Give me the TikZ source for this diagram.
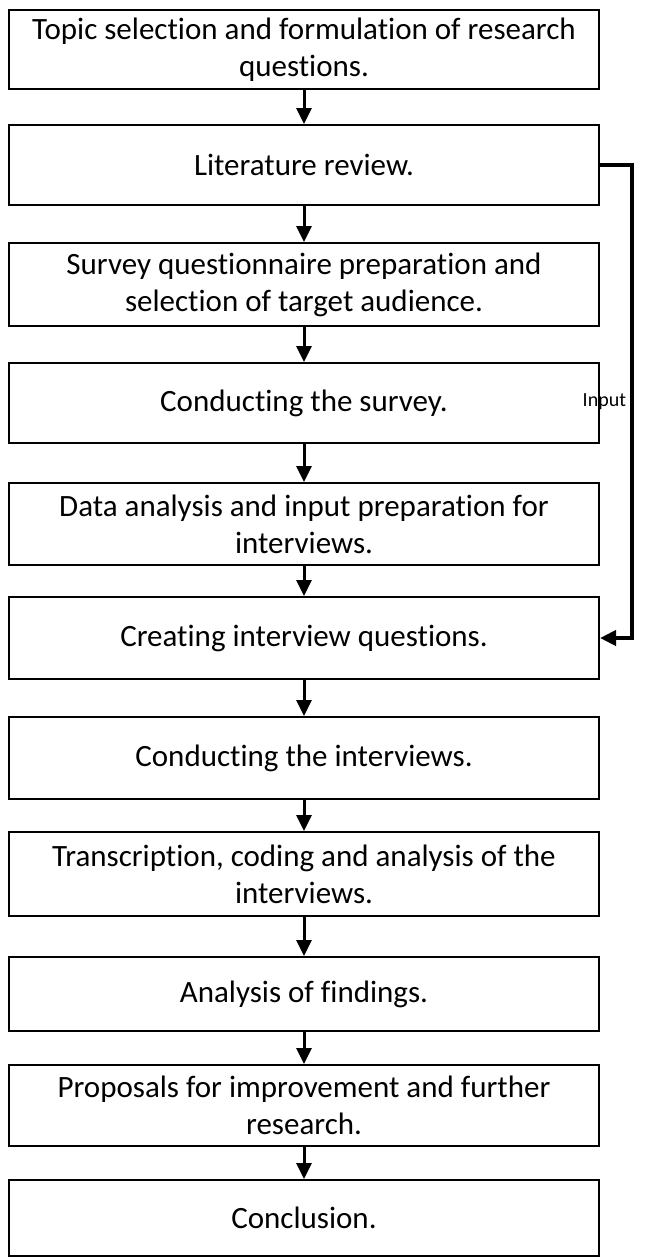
\documentclass[tikz,border=0pt]{standalone}
\usepackage{fontspec}
\setmainfont{Carlito}[Ligatures=CommonOff]
\usetikzlibrary{arrows.meta}

\begin{document}
\begin{tikzpicture}[x=0.5pt,y=-0.5pt]
\useasboundingbox (0,0) rectangle (657,1258);
						\begin{scope}[every node/.style={draw=black,line width=1pt,minimum width=295pt,inner sep=0pt,align=center,font=\fontsize{15.5}{18.5}\selectfont}]
							\node[minimum height=39.5pt] (topic) at (304,49.5) {Topic selection and formulation of research\\questions.};
							\node[minimum height=40pt] (lit) at (304,165) {Literature review.};
							\node[minimum height=41.5pt] (survprep) at (304,284.5) {Survey questionnaire preparation and\\selection of target audience.};
							\node[minimum height=40pt] (survey) at (304,403) {Conducting the survey.};
							\node[minimum height=41pt] (data) at (304,524) {Data analysis and input preparation for\\interviews.};
							\node[minimum height=41pt] (create) at (304,638) {Creating interview questions.};
							\node[minimum height=41pt] (interv) at (304,758) {Conducting the interviews.};
							\node[minimum height=42pt] (transc) at (304,874) {Transcription, coding and analysis of the\\interviews.};
							\node[minimum height=37pt] (find) at (304,994) {Analysis of findings.};
							\node[minimum height=40.5pt] (prop) at (304,1105.5) {Proposals for improvement and further\\research.};
							\node[minimum height=38pt] (concl) at (304,1218) {Conclusion.};
						\end{scope}
						
						\begin{scope}[every edge/.style={draw=black,line width=1.5pt,-{Triangle[width=7.5pt,length=8pt]}}]
							\path (topic) edge (lit);
							\path (lit) edge (survprep);
							\path (survprep) edge (survey);
							\path (survey) edge (data);
							\path (data) edge (create);
							\path (create) edge (interv);
							\path (interv) edge (transc);
							\path (transc) edge (find);
							\path (find) edge (prop);
							\path (prop) edge (concl);
						\end{scope}
						
						\draw[line width=2pt,-{Triangle[width=7.5pt,length=8pt]}] (lit.east) -- (632,165) |- (create.east) node [pos=0.25,left,inner sep=2pt,font=\fontsize{10}{12}\selectfont] {Input};
					\end{tikzpicture}
\end{document}
